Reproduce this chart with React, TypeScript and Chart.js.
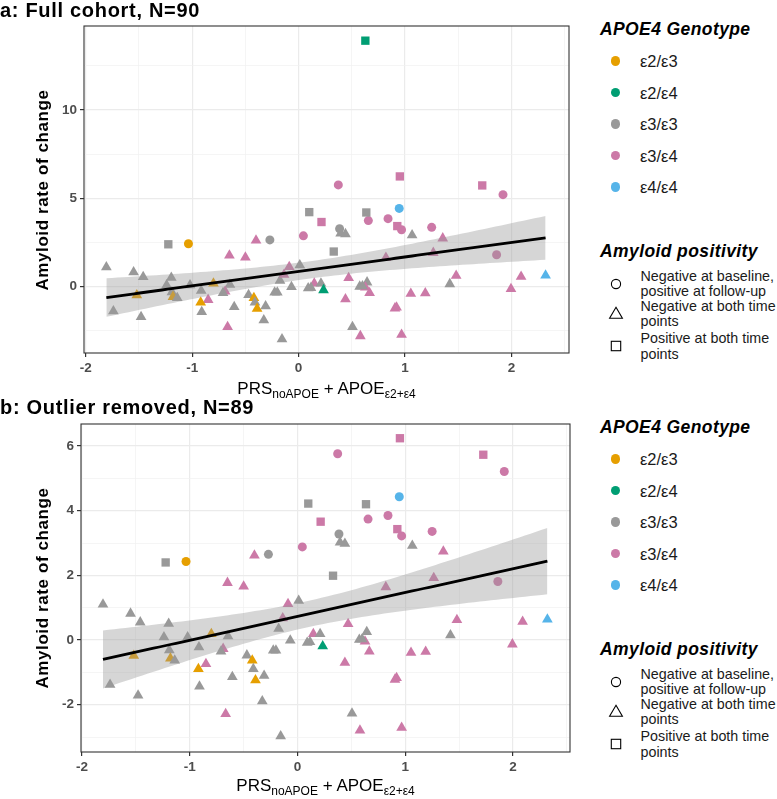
import React, { useEffect, useRef } from 'react';
import { Chart, registerables } from 'chart.js';
Chart.register(...registerables);

const FONT = '"Liberation Sans", Arial, Helvetica, sans-serif';

// ---------------- data (panel b, N = 89) ----------------
// genotype index: 0 ε2/ε3, 1 ε2/ε4, 2 ε3/ε3, 3 ε3/ε4, 4 ε4/ε4
// positivity index: 0 neg->pos (circle), 1 neg both (triangle), 2 pos both (square)
const prsScore: number[] = [
  -1.035, -0.27, 0.045, 0.373, 0.385, 0.655, 0.84, 0.945, 0.967, 1.25, 1.92, 1.86,
  -1.224, 0.10, 0.215, 0.33, 0.636, 0.927, 0.951, 1.725,
  -1.806, -1.55, -1.46, -1.52, -1.74, -1.48, -1.196, -1.24, -1.19, -1.18,
  -1.14, -1.02, -0.915, -0.80, -0.645, -0.69, -0.71, -0.85, -0.92, -0.91,
  -0.605, -0.667, -0.47, -0.42, -0.41, -0.39, -0.31, -0.327, -0.225, -0.20,
  -0.175, -0.137, -0.088, 0.011, -0.067, -0.156, 0.147, 0.116, 0.09, 0.21,
  0.234, 0.47, 0.44, 0.574, 0.643, 0.627, 0.667, 0.506, 0.58, 0.905,
  0.92, 0.967, -0.65, -0.50, -0.40, 0.395, 0.44, 1.066, 1.354, 1.265,
  0.82, 1.48, 1.42, 2.09, 2.32, 1.995, 1.054, 1.19, 0.60,
];
const amyloidRate: number[] = [
  2.43, 2.65, 2.88, 5.76, 3.28, 3.74, 3.85, 4.43, 3.22, 3.36, 5.21, 1.81,
  2.40, 4.22, 3.66, 1.99, 4.20, 3.43, 6.24, 5.73,
  1.10, 0.82, 0.55, -0.48, -1.38, -1.71, 0.51, 0.09, -0.31, -0.57,
  -0.63, 0.09, -0.22, 0.19, 0.12, -0.27, -0.35, -0.74, -0.89, -1.43,
  -1.14, -2.28, -0.47, -0.63, -0.89, -1.24, -1.10, -1.89, -0.32, -0.32,
  0.35, 0.68, 1.12, 1.22, -0.01, -2.97, 0.19, -0.06, -0.08, 0.19,
  -0.19, 0.50, -0.70, 0.01, 0.25, -0.04, -0.35, -2.27, -2.79, -1.22,
  -1.17, -2.71, 1.77, 1.66, 2.62, 3.02, 2.98, 2.92, 2.74, 1.92,
  1.64, 0.62, 0.15, 0.57, 0.64, -0.13, -0.39, -0.36, 0.03,
];
const genotypeIdx: number[] = [
  0, 2, 3, 3, 2, 3, 3, 4, 3, 3, 3, 3,
  2, 2, 3, 2, 2, 3, 3, 3,
  2, 2, 2, 0, 2, 2, 2, 2, 2, 0,
  2, 2, 2, 0, 2, 3, 2, 3, 0, 2,
  2, 3, 2, 0, 2, 0, 2, 2, 2, 2,
  2, 3, 3, 2, 2, 2, 3, 2, 2, 2,
  1, 3, 3, 2, 2, 3, 3, 2, 3, 3,
  3, 3, 3, 3, 3, 2, 2, 2, 3, 3,
  3, 3, 2, 3, 4, 3, 3, 3, 2,
];
const positivityIdx: number[] = [
  0, 0, 0, 0, 0, 0, 0, 0, 0, 0, 0, 0,
  2, 2, 2, 2, 2, 2, 2, 2,
  1, 1, 1, 1, 1, 1, 1, 1, 1, 1,
  1, 1, 1, 1, 1, 1, 1, 1, 1, 1,
  1, 1, 1, 1, 1, 1, 1, 1, 1, 1,
  1, 1, 1, 1, 1, 1, 1, 1, 1, 1,
  1, 1, 1, 1, 1, 1, 1, 1, 1, 1,
  1, 1, 1, 1, 1, 1, 1, 1, 1, 1,
  1, 1, 1, 1, 1, 1, 1, 1, 1,
];
// outlier present only in panel a
const outlierPrs = 0.627;
const outlierRate = 13.92;
const outlierGenotype = 1;
const outlierPositivity = 2;

const genotypeLabels = ['ε2/ε3', 'ε2/ε4', 'ε3/ε3', 'ε3/ε4', 'ε4/ε4'];
const genotypeColors = ['#E69F00', '#009E73', '#999999', '#CC79A7', '#56B4E9'];
const positivityLabels = [
  ['Negative at baseline,', 'positive at follow-up'],
  ['Negative at both time', 'points'],
  ['Positive at both time', 'points'],
];
const xTickValues = [-2, -1.5, -1, -0.5, 0, 0.5, 1, 1.5, 2, 2.5];
const yTicksPanelA = [-2.5, 0, 2.5, 5, 7.5, 10, 12.5];
const yTicksPanelB = [-3, -2, -1, 0, 1, 2, 3, 4, 5, 6];

const pointStyles = ['circle', 'triangle', 'rect'];
const pointRadii = [4.5, 6.2, 5.9];

type Spec = {
  xs: number[]; ys: number[]; gs: number[]; ss: number[];
  xMin: number; xMax: number; yMin: number; yMax: number;
  yTicks: number[]; yMajorStep: number;
  canvasTop: number; canvasHeight: number;
  areaLeft: number; areaRight: number; areaTop: number; areaBottom: number;
};

const specA: Spec = {
  xs: [...prsScore, outlierPrs], ys: [...amyloidRate, outlierRate],
  gs: [...genotypeIdx, outlierGenotype], ss: [...positivityIdx, outlierPositivity],
  xMin: -2.016, xMax: 2.54, yMin: -3.75, yMax: 14.75,
  yTicks: yTicksPanelA, yMajorStep: 5,
  canvasTop: 0, canvasHeight: 395,
  areaLeft: 84, areaRight: 569, areaTop: 26, areaBottom: 353,
};
const specB: Spec = {
  xs: prsScore, ys: amyloidRate, gs: genotypeIdx, ss: positivityIdx,
  xMin: -2.01, xMax: 2.53, yMin: -3.46, yMax: 6.68,
  yTicks: yTicksPanelB, yMajorStep: 2,
  canvasTop: 398, canvasHeight: 401,
  areaLeft: 81, areaRight: 570, areaTop: 424, areaBottom: 752,
};

function linearFit(xs: number[], ys: number[]) {
  const n = xs.length;
  const mx = xs.reduce((s, v) => s + v, 0) / n;
  const my = ys.reduce((s, v) => s + v, 0) / n;
  let sxx = 0, sxy = 0;
  for (let i = 0; i < n; i++) { sxx += (xs[i] - mx) ** 2; sxy += (xs[i] - mx) * (ys[i] - my); }
  const b = sxy / sxx;
  const a = my - b * mx;
  let sse = 0;
  for (let i = 0; i < n; i++) sse += (ys[i] - a - b * xs[i]) ** 2;
  const s = Math.sqrt(sse / (n - 2));
  const se = (x: number) => s * Math.sqrt(1 / n + (x - mx) ** 2 / sxx);
  return { a, b, se };
}

const isMult = (v: number, step: number) => Math.abs(v / step - Math.round(v / step)) < 1e-9;

const borderPlugin = {
  id: 'panelBorder',
  afterDraw(chart: any) {
    const { ctx, chartArea: a } = chart;
    ctx.save();
    ctx.strokeStyle = '#333333';
    ctx.lineWidth = 1.1;
    ctx.strokeRect(a.left, a.top, a.right - a.left, a.bottom - a.top);
    ctx.restore();
  },
};

function buildChart(canvas: HTMLCanvasElement, spec: Spec) {
  const fit = linearFit(spec.xs, spec.ys);
  const lo = Math.min(...spec.xs), hi = Math.max(...spec.xs);
  const grid: number[] = [];
  for (let i = 0; i < 80; i++) grid.push(lo + (hi - lo) * i / 79);
  const tq = 1.987;
  const linePts = grid.map((x) => ({ x, y: fit.a + fit.b * x }));
  const upper = grid.map((x) => ({ x, y: fit.a + fit.b * x + tq * fit.se(x) }));
  const lower = grid.map((x) => ({ x, y: fit.a + fit.b * x - tq * fit.se(x) }));
  const pts = spec.xs.map((x, i) => ({ x, y: spec.ys[i] }));
  const tickFont = { family: FONT, size: 13.5, weight: 'bold' as const };

  const relBottom = spec.areaBottom - spec.canvasTop;
  const xScaleH = 30;
  const padBottom = spec.canvasHeight - relBottom - xScaleH;

  return new Chart(canvas, {
    type: 'scatter',
    data: {
      datasets: [
        { type: 'line', data: linePts, borderColor: '#000000', borderWidth: 2.8, pointRadius: 0, fill: false, tension: 0 } as any,
        { type: 'line', data: upper, borderColor: 'transparent', borderWidth: 0, pointRadius: 0, fill: '+1', backgroundColor: 'rgba(153,153,153,0.4)' } as any,
        { type: 'line', data: lower, borderColor: 'transparent', borderWidth: 0, pointRadius: 0, fill: false } as any,
        {
          data: pts,
          pointStyle: (c: any) => pointStyles[spec.ss[c.dataIndex]] as any,
          pointRadius: (c: any) => pointRadii[spec.ss[c.dataIndex]],
          backgroundColor: (c: any) => genotypeColors[spec.gs[c.dataIndex]],
          borderWidth: 0,
          borderColor: 'transparent',
        } as any,
      ],
    },
    options: {
      responsive: false,
      animation: false,
      devicePixelRatio: 1,
      events: [],
      layout: { padding: { left: 0, right: 580 - spec.areaRight, top: spec.areaTop - spec.canvasTop, bottom: padBottom } },
      plugins: { legend: { display: false }, tooltip: { enabled: false }, title: { display: false } },
      scales: {
        x: {
          type: 'linear', min: spec.xMin, max: spec.xMax,
          afterBuildTicks: (s: any) => { s.ticks = xTickValues.map((v) => ({ value: v })); },
          afterFit: (s: any) => { s.height = xScaleH; },
          ticks: {
            autoSkip: false, maxRotation: 0, padding: 3, color: '#4D4D4D', font: tickFont,
            callback: (v: any) => (isMult(Number(v), 1) ? String(v) : ''),
          },
          grid: {
            color: (c: any) => (isMult(c.tick.value, 1) ? '#EBEBEB' : '#F1F1F1'),
            lineWidth: (c: any) => (isMult(c.tick.value, 1) ? 1.2 : 0.7),
            tickColor: (c: any) => (isMult(c.tick.value, 1) ? '#333333' : 'rgba(0,0,0,0)'),
            tickLength: 4,
            drawTicks: true,
          },
          border: { display: false },
        },
        y: {
          type: 'linear', min: spec.yMin, max: spec.yMax,
          afterBuildTicks: (s: any) => { s.ticks = spec.yTicks.map((v) => ({ value: v })); },
          afterFit: (s: any) => { s.width = spec.areaLeft; },
          ticks: {
            autoSkip: false, padding: 3, color: '#4D4D4D', font: tickFont,
            callback: (v: any) => (isMult(Number(v), spec.yMajorStep) ? String(v) : ''),
          },
          grid: {
            color: (c: any) => (isMult(c.tick.value, spec.yMajorStep) ? '#EBEBEB' : '#F1F1F1'),
            lineWidth: (c: any) => (isMult(c.tick.value, spec.yMajorStep) ? 1.2 : 0.7),
            tickColor: (c: any) => (isMult(c.tick.value, spec.yMajorStep) ? '#333333' : 'rgba(0,0,0,0)'),
            tickLength: 4,
            drawTicks: true,
          },
          border: { display: false },
        },
      },
    } as any,
    plugins: [borderPlugin],
  });
}

function ScatterPanel({ spec }: { spec: Spec }) {
  const ref = useRef<HTMLCanvasElement>(null);
  useEffect(() => {
    const chart = buildChart(ref.current as HTMLCanvasElement, spec);
    return () => chart.destroy();
  }, [spec]);
  return (
    <canvas
      ref={ref}
      width={580}
      height={spec.canvasHeight}
      style={{ position: 'absolute', left: 0, top: spec.canvasTop, width: 580, height: spec.canvasHeight }}
    />
  );
}

function ShapeIcon({ kind }: { kind: number }) {
  return (
    <svg width={16} height={16} viewBox="0 0 16 16" style={{ display: 'block' }}>
      {kind === 0 && <circle cx={8} cy={8} r={4.6} fill="none" stroke="#000" strokeWidth={1.1} />}
      {kind === 1 && <polygon points="8,2.3 14.4,13.2 1.6,13.2" fill="none" stroke="#000" strokeWidth={1.1} />}
      {kind === 2 && <rect x={3.3} y={3.3} width={9.4} height={9.4} fill="none" stroke="#000" strokeWidth={1.1} />}
    </svg>
  );
}

const headStyle: React.CSSProperties = {
  position: 'absolute', left: 600, fontFamily: FONT, fontSize: 17.5, fontWeight: 'bold',
  fontStyle: 'italic', letterSpacing: '0.4px', lineHeight: '20px', whiteSpace: 'nowrap', color: '#000',
};

function Legend({ offset }: { offset: number }) {
  const genoY = [61, 92.5, 124, 155.5, 187];
  const shapeY = [283.7, 313.3, 345.7];
  const textTop = [268.7, 298.7, 331];
  return (
    <>
      <div style={{ ...headStyle, top: offset + 19 }}>APOE4 Genotype</div>
      {genotypeLabels.map((g, i) => (
        <React.Fragment key={g}>
          <div style={{
            position: 'absolute', left: 615.7 - 4.8, top: offset + genoY[i] - 4.8, width: 9.6, height: 9.6,
            borderRadius: '50%', background: genotypeColors[i],
          }} />
          <div style={{
            position: 'absolute', left: 640, top: offset + genoY[i] - 10, lineHeight: '20px',
            fontFamily: FONT, fontSize: 16.5, color: '#1a1a1a', whiteSpace: 'nowrap',
          }}>{g}</div>
        </React.Fragment>
      ))}
      <div style={{ ...headStyle, top: offset + 241 }}>Amyloid positivity</div>
      {positivityLabels.map((lines, i) => (
        <React.Fragment key={i}>
          <div style={{ position: 'absolute', left: 615.7 - 8, top: offset + shapeY[i] - 8 }}>
            <ShapeIcon kind={i} />
          </div>
          <div style={{
            position: 'absolute', left: 640.5, top: offset + textTop[i], lineHeight: '15.8px',
            fontFamily: FONT, fontSize: 14.3, color: '#1a1a1a', whiteSpace: 'nowrap',
          }}>
            {lines[0]}<br />{lines[1]}
          </div>
        </React.Fragment>
      ))}
    </>
  );
}

function AxisTitles({ spec, offset }: { spec: Spec; offset: number }) {
  const cx = (spec.areaLeft + spec.areaRight) / 2;
  const cy = (spec.areaTop + spec.areaBottom) / 2;
  const sub: React.CSSProperties = { fontSize: 12, position: 'relative', top: 4 };
  return (
    <>
      <div style={{
        position: 'absolute', left: 43, top: cy, transform: 'translate(-50%, -50%) rotate(-90deg)',
        fontFamily: FONT, fontSize: 17, fontWeight: 'bold', letterSpacing: '0.6px', whiteSpace: 'nowrap',
        lineHeight: '20px', color: '#000',
      }}>Amyloid rate of change</div>
      <div style={{
        position: 'absolute', left: cx, top: offset + 379, transform: 'translateX(-50%)',
        fontFamily: FONT, fontSize: 17, lineHeight: '20px', whiteSpace: 'nowrap', color: '#000',
      }}>
        PRS<span style={sub}>noAPOE</span> + APOE<span style={sub}>ε2+ε4</span>
      </div>
    </>
  );
}

const titleStyle: React.CSSProperties = {
  position: 'absolute', left: 0, fontFamily: FONT, fontSize: 20, fontWeight: 'bold',
  letterSpacing: '0.7px', lineHeight: '22px', whiteSpace: 'nowrap', color: '#000',
};

export default function App() {
  return (
    <div style={{ position: 'absolute', left: 0, top: 0, width: 777, height: 799, background: '#fff', overflow: 'hidden' }}>
      <ScatterPanel spec={specA} />
      <ScatterPanel spec={specB} />
      <AxisTitles spec={specA} offset={0} />
      <AxisTitles spec={specB} offset={397} />
      <div style={{ ...titleStyle, top: -1 }}>a: Full cohort, N=90</div>
      <div style={{ ...titleStyle, top: 396 }}>b: Outlier removed, N=89</div>
      <Legend offset={0} />
      <Legend offset={398} />
    </div>
  );
}
